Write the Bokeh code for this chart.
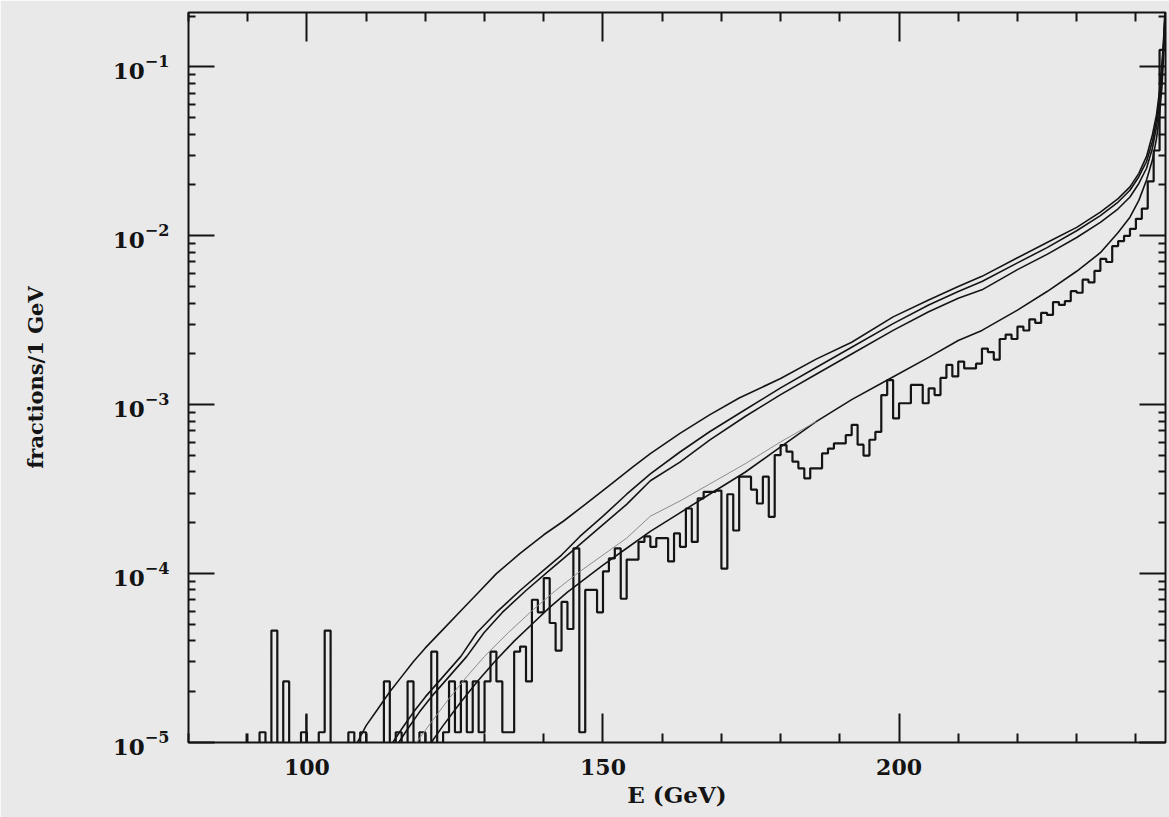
from bokeh.plotting import figure
from bokeh.models import FixedTicker, LinearAxis, LogAxis, Range1d
from bokeh.embed import file_html
from bokeh.resources import INLINE

# ---------------- data ----------------
# histogram: fraction per 1 GeV bin, bins start at these energies (GeV)
hist_left = list(range(89, 245))
hist_vals = [
    0, 0, 0, 1.15e-5, 0, 4.6e-5, 0, 2.3e-5, 0, 0,            # 89-98
    1.15e-5, 0, 0, 1.15e-5, 4.6e-5, 0, 0, 0, 1.15e-5, 0,     # 99-108
    1.15e-5, 0, 0, 0, 2.3e-5, 0, 1.15e-5, 0, 2.3e-5, 0,      # 109-118
    1.15e-5, 0, 3.45e-5, 0, 1.15e-5, 2.3e-5, 1.15e-5, 2.3e-5, 1.15e-5, 2.3e-5,  # 119-128
    1.15e-5, 2.3e-5, 3.45e-5, 2.3e-5, 1.15e-5, 1.15e-5, 3.45e-5, 3.7e-5, 2.3e-5, 7.0e-5,  # 129-138
    5.9e-5, 9.4e-5, 5.1e-5, 3.5e-5, 6.8e-5, 4.7e-5, 1.41e-4, 1.15e-5, 8.0e-5, 8.0e-5,  # 139-148
    5.9e-5, 1.03e-4, 1.23e-4, 1.41e-4, 7.1e-5, 1.21e-4, 1.21e-4, 1.54e-4, 1.66e-4, 1.44e-4,  # 149-158
    1.62e-4, 1.62e-4, 1.18e-4, 1.73e-4, 1.44e-4, 2.43e-4, 1.54e-4, 2.79e-4, 3.05e-4, 3.05e-4,  # 159-168
    3.1e-4, 1.07e-4, 2.95e-4, 1.8e-4, 3.75e-4, 3.75e-4, 3.14e-4, 2.6e-4, 3.75e-4, 2.17e-4,  # 169-178
    5.03e-4, 5.77e-4, 5.27e-4, 4.6e-4, 4.2e-4, 3.66e-4, 4.2e-4, 4.2e-4, 5.15e-4, 5.5e-4,  # 179-188
    5.9e-4, 5.9e-4, 6.6e-4, 7.6e-4, 5.8e-4, 5.0e-4, 6.2e-4, 6.9e-4, 1.14e-3, 1.40e-3,  # 189-198
    8.3e-4, 1.02e-3, 1.02e-3, 1.31e-3, 1.31e-3, 1.02e-3, 1.25e-3, 1.14e-3, 1.44e-3, 1.72e-3,  # 199-208
    1.47e-3, 1.8e-3, 1.64e-3, 1.64e-3, 1.75e-3, 2.15e-3, 2.05e-3, 1.85e-3, 2.45e-3, 2.6e-3,  # 209-218
    2.45e-3, 2.9e-3, 2.75e-3, 3.2e-3, 3.05e-3, 3.5e-3, 3.4e-3, 4.05e-3, 3.9e-3, 4.1e-3,  # 219-228
    4.7e-3, 4.6e-3, 5.5e-3, 5.3e-3, 6.2e-3, 7.3e-3, 7.0e-3, 8.7e-3, 9.3e-3, 1.0e-2,  # 229-238
    1.1e-2, 1.26e-2, 1.45e-2, 2.1e-2, 3.2e-2, 0.126,                                  # 239-244
]
hist_end = 245

# two thin isolated spikes at the low-energy end
spike_e = [89.8, 99.9]
spike_top = [1.13e-5, 1.47e-5]

# smooth spectra: energy (GeV) and log10 of the fraction per GeV
curve_a_e = [108.5, 110, 112, 114, 116, 118, 120, 123, 126, 129, 132, 136, 140, 143.3,
             147, 151, 155, 158, 163, 168, 173, 180, 186, 192, 199, 205, 210, 214, 220,
             225, 230, 234, 237, 239, 240.5, 241.8, 242.8, 243.5, 244, 244.4, 244.7, 244.9]
curve_a_log10 = [-5.00, -4.90, -4.80, -4.70, -4.61, -4.52, -4.44, -4.33, -4.22, -4.11,
                 -4.00, -3.88, -3.77, -3.69, -3.59, -3.48, -3.37, -3.29, -3.17, -3.06,
                 -2.96, -2.845, -2.73, -2.63, -2.48, -2.38, -2.30, -2.24, -2.13, -2.04,
                 -1.95, -1.86, -1.78, -1.71, -1.63, -1.53, -1.40, -1.28, -1.14, -0.98,
                 -0.82, -0.68]

curve_b_e = [114.5, 116, 118, 120, 123, 126, 128.7, 132, 136, 140, 143, 146.1, 150, 154,
             158, 163, 168, 174, 180, 186, 192, 199, 205, 210, 214, 220, 225, 230, 234,
             237, 239, 240.5, 241.8, 242.8, 243.5, 244, 244.4, 244.7, 244.92]
curve_b_log10 = [-5.00, -4.92, -4.82, -4.73, -4.61, -4.49, -4.35, -4.23, -4.10, -3.98,
                 -3.89, -3.78, -3.66, -3.53, -3.41, -3.28, -3.16, -3.03, -2.90, -2.78,
                 -2.66, -2.52, -2.41, -2.33, -2.27, -2.16, -2.07, -1.97, -1.88, -1.80,
                 -1.73, -1.65, -1.56, -1.44, -1.31, -1.17, -1.01, -0.85, -0.68]

curve_c_e = [115.5, 117, 119, 121, 124, 127, 129.9, 133, 137, 141, 144, 147, 150, 154,
             158, 163, 168, 174, 180, 186, 192, 199, 205, 210, 214, 220, 225, 230, 234,
             237, 239, 240.5, 241.8, 242.8, 243.5, 244, 244.4, 244.7, 244.94]
curve_c_log10 = [-5.00, -4.92, -4.82, -4.73, -4.61, -4.49, -4.35, -4.23, -4.10, -3.98,
                 -3.89, -3.80, -3.71, -3.59, -3.45, -3.34, -3.21, -3.07, -2.94, -2.82,
                 -2.70, -2.56, -2.45, -2.37, -2.32, -2.20, -2.11, -2.01, -1.92, -1.84,
                 -1.77, -1.69, -1.60, -1.48, -1.35, -1.21, -1.05, -0.88, -0.68]

curve_d_e = [121, 123, 126, 129, 132, 135, 138, 141, 144, 147, 150, 154, 158, 163, 168,
             174, 180, 186, 192, 198.5, 205, 210, 214, 220, 225, 230, 234, 237, 239,
             240.5, 241.8, 242.8, 243.5, 244, 244.4, 244.7, 244.95]
curve_d_log10 = [-5.00, -4.90, -4.76, -4.63, -4.51, -4.40, -4.30, -4.20, -4.11, -4.03,
                 -3.95, -3.85, -3.75, -3.64, -3.53, -3.40, -3.25, -3.10, -2.97, -2.845,
                 -2.72, -2.62, -2.56, -2.44, -2.33, -2.21, -2.10, -1.98, -1.89, -1.79,
                 -1.67, -1.55, -1.42, -1.28, -1.12, -0.92, -0.68]

# faint thin curve between the upper group and the lowest curve
curve_f_e = [118.5, 121, 124, 127, 130, 134, 138, 142, 146, 150, 154, 158, 163, 168,
             174, 180, 186]
curve_f_log10 = [-5.00, -4.88, -4.74, -4.61, -4.49, -4.35, -4.22, -4.10, -3.99, -3.89,
                 -3.79, -3.66, -3.57, -3.47, -3.35, -3.22, -3.10]

x_major = [100, 150, 200]
x_minor = [80, 90, 110, 120, 130, 140, 160, 170, 180, 190, 210, 220, 230, 240]
y_major = [1e-5, 1e-4, 1e-3, 1e-2, 1e-1]
y_minor_mult = [2, 3, 4, 5, 6, 7, 8, 9]

# ---------------- figure ----------------
BG = "#e9e9e9"
INK = "#141414"
FONT = "DejaVu Serif"

p = figure(width=1169, height=817, y_axis_type="log",
           x_range=Range1d(80, 245), y_range=Range1d(1e-5, 0.21),
           output_backend="svg", toolbar_location=None,
           min_border_left=188, min_border_right=4,
           min_border_top=12, min_border_bottom=75)
p.background_fill_color = BG
p.border_fill_color = BG
p.outline_line_color = INK
p.outline_line_width = 2
p.grid.visible = False

y_minor = [m * t for t in y_major for m in y_minor_mult]
xt = FixedTicker(ticks=x_major, minor_ticks=x_minor)
yt = FixedTicker(ticks=y_major, minor_ticks=y_minor)


def style_axis(ax, major_len, minor_len):
    ax.major_tick_in = major_len
    ax.major_tick_out = 0
    ax.minor_tick_in = minor_len
    ax.minor_tick_out = 0
    ax.major_tick_line_color = INK
    ax.minor_tick_line_color = INK
    ax.major_tick_line_width = 2
    ax.minor_tick_line_width = 2
    ax.axis_line_color = None
    ax.major_label_text_font = FONT
    ax.major_label_text_font_style = "bold"
    ax.major_label_text_font_size = "22px"
    ax.major_label_text_color = INK
    ax.axis_label_text_font = FONT
    ax.axis_label_text_font_style = "bold"
    ax.axis_label_text_font_size = "21px"
    ax.axis_label_text_color = INK


xa = p.xaxis[0]
xa.ticker = xt
style_axis(xa, 29, 9)
xa.major_label_standoff = 16
xa.axis_label = "E (GeV)"
xa.axis_label_text_font_size = "23px"
xa.axis_label_standoff = 3

ya = p.yaxis[0]
ya.ticker = yt
style_axis(ya, 26, 7)
ya.major_label_text_font_size = "23px"
ya.major_label_standoff = 19
ya.axis_label = "fractions/1 GeV"
ya.axis_label_standoff = 62


def tick_only_axis(cls, positions, length):
    ax = cls(ticker=FixedTicker(ticks=[], minor_ticks=positions))
    ax.major_tick_in = 0
    ax.major_tick_out = 0
    ax.minor_tick_in = length
    ax.minor_tick_out = 0
    ax.minor_tick_line_color = INK
    ax.minor_tick_line_width = 2
    ax.axis_line_color = None
    ax.major_label_standoff = 0
    return ax


p.add_layout(tick_only_axis(LinearAxis, x_major, 29), "above")
p.add_layout(tick_only_axis(LinearAxis, x_minor, 9), "above")
p.add_layout(tick_only_axis(LogAxis, y_major, 26), "right")
p.add_layout(tick_only_axis(LogAxis, y_minor, 7), "right")

# histogram as an outline step (empty bins drop below the axis)
FLOOR = 1e-7
hx = hist_left + [hist_end]
hy = [v if v > 0 else FLOOR for v in hist_vals]
hy = hy + [hy[-1]]
p.step(hx, hy, mode="after", line_color=INK, line_width=2.2)
p.segment(x0=spike_e, y0=[FLOOR] * len(spike_e), x1=spike_e, y1=spike_top,
          line_color=INK, line_width=2)

# smooth curves
for ce, cl in [(curve_a_e, curve_a_log10), (curve_b_e, curve_b_log10),
               (curve_c_e, curve_c_log10), (curve_d_e, curve_d_log10)]:
    p.line(ce, [10 ** v for v in cl], line_color=INK, line_width=1.6)
p.line(curve_f_e, [10 ** v for v in curve_f_log10], line_color="#8c8c8c", line_width=1)

open("out.html", "w").write(file_html(p, INLINE))
